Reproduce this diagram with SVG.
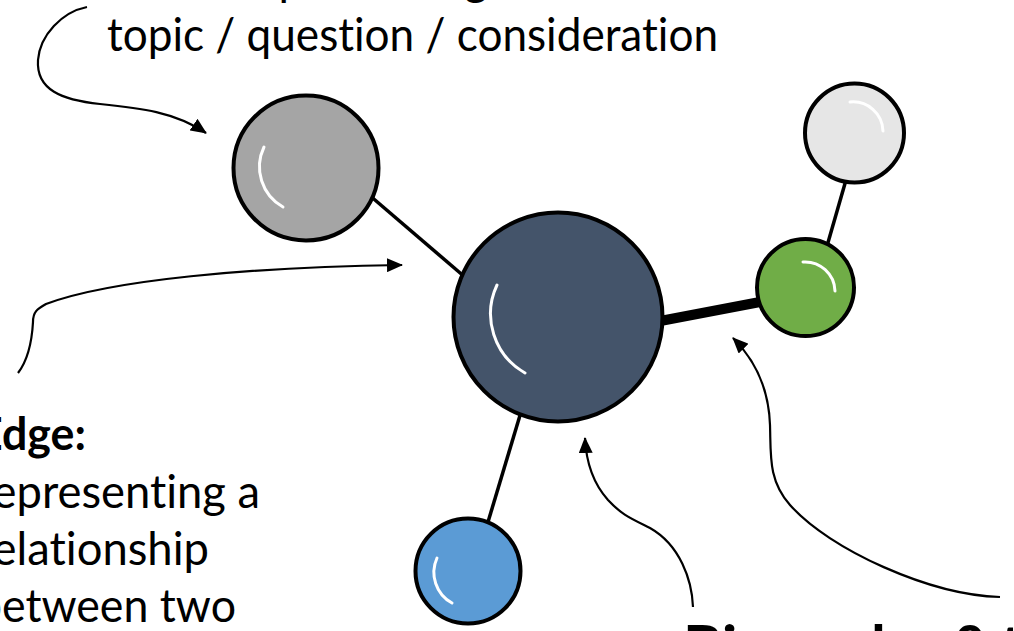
<svg xmlns="http://www.w3.org/2000/svg" width="1014" height="631" viewBox="0 0 1014 631">
  <style>
    .lbl { font-family: Lato, "Open Sans", "Liberation Sans", sans-serif; font-size: 46px; fill: #000; font-variant-ligatures: none; font-feature-settings: "liga" 0, "clig" 0; }
    .b { font-weight: bold; }
    .node { stroke: #000; stroke-width: 4; }
    .shine { fill: none; stroke: #fff; stroke-width: 3; stroke-linecap: round; }
    .edge { stroke: #000; stroke-width: 3.5; stroke-linecap: butt; }
    .call { fill: none; stroke: #000; stroke-width: 2.2; }
  </style>
  <defs>
    <marker id="head" markerUnits="userSpaceOnUse" markerWidth="18" markerHeight="14" refX="15" refY="7" orient="auto">
      <path d="M0,0 L16,7 L0,14 Z" fill="#000"/>
    </marker>
  </defs>

  <rect width="1014" height="631" fill="#fff"/>

  <!-- labels -->
  <g id="labels">
    <text class="lbl" x="239" y="-5" textLength="283" lengthAdjust="spacingAndGlyphs">representing a</text>
    <text class="lbl" x="107" y="51" textLength="611" lengthAdjust="spacingAndGlyphs">topic / question / consideration</text>
    <text class="lbl b" x="-23" y="450" textLength="109" lengthAdjust="spacingAndGlyphs">Edge:</text>
    <text class="lbl" x="-23" y="508" textLength="283" lengthAdjust="spacingAndGlyphs">representing a</text>
    <text class="lbl" x="-23" y="565" textLength="232" lengthAdjust="spacingAndGlyphs">relationship</text>
    <text class="lbl" x="-23" y="622" textLength="259" lengthAdjust="spacingAndGlyphs">between two</text>
    <text class="lbl b" y="668" style="font-size:60px"><tspan x="683">Big nodes</tspan><tspan x="950">&amp;</tspan><tspan x="1000">th</tspan></text>
  </g>

  <!-- connectors -->
  <g id="connectors">
    <line class="edge" x1="368" y1="194" x2="466" y2="278"/>
    <line class="edge" x1="521" y1="412" x2="488" y2="522"/>
    <line class="edge" x1="846" y1="180" x2="827" y2="246"/>
    <line class="edge" x1="655" y1="322" x2="760" y2="302" style="stroke-width:10"/>

    <path class="call" marker-end="url(#head)" d="M87,7 C62,12 40,35 38,60 C36,90 62,100 100,104 C140,108 175,112 206,133"/>
    <path class="call" marker-end="url(#head)" d="M18,373 C28,360 32,340 33,322 C33,312 37,309 46,304 C110,280 250,267 402,265"/>
    <path class="call" marker-end="url(#head)" d="M693,607 C692,580 680,545 650,528 C630,518 622,515 608,500 C592,482 586,460 585,438"/>
    <path class="call" marker-end="url(#head)" d="M1000,597 C930,595 830,550 790,505 C768,480 771,455 770,425 C769,395 760,365 733,338"/>
  </g>

  <!-- nodes -->
  <g id="node-topic">
    <circle class="node" cx="306" cy="168" r="72.5" fill="#A5A5A5"/>
    <path class="shine" d="M264,147 A46,46 0 0 0 283,207"/>
  </g>
  <g id="node-main">
    <circle class="node" cx="558" cy="317" r="104.5" fill="#44546A"/>
    <path class="shine" d="M497,285 A68,68 0 0 0 525,373"/>
  </g>
  <g id="node-green">
    <circle class="node" cx="805.5" cy="287.5" r="48.5" fill="#70AD47"/>
    <path class="shine" d="M803,262 A30,30 0 0 1 835,291"/>
  </g>
  <g id="node-light">
    <circle class="node" cx="854.5" cy="133" r="49.5" fill="#E6E6E6"/>
    <path class="shine" d="M850,102 A30,30 0 0 1 883,131"/>
  </g>
  <g id="node-blue">
    <circle class="node" cx="468" cy="571" r="52.5" fill="#5B9BD5"/>
    <path class="shine" d="M437,558 A35,35 0 0 0 452,603"/>
  </g>
</svg>
